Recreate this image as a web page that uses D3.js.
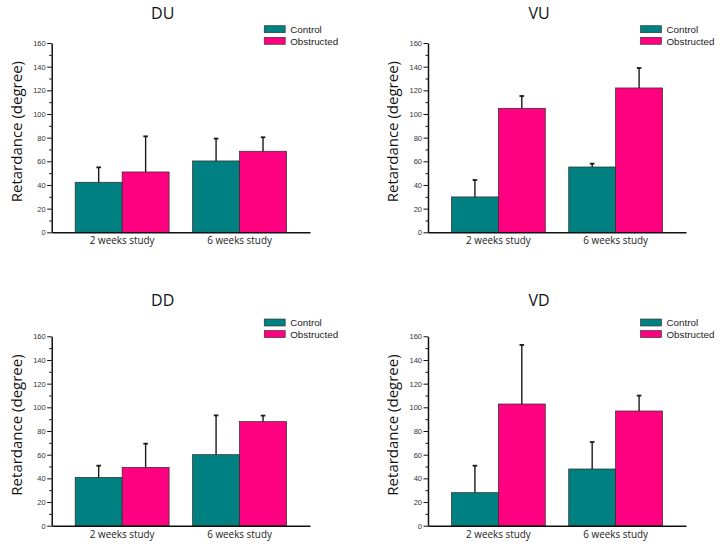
<!DOCTYPE html>
<html><head><meta charset="utf-8">
<script src="https://cdn.jsdelivr.net/npm/d3@7"></script>
<style>body{margin:0;background:#fff;} svg{display:block;}</style>
</head><body>
<svg id="chart" width="727" height="548"></svg>
<script>
// ---- data ----
const categories = ["2 weeks study", "6 weeks study"];
const seriesNames = ["Control", "Obstructed"];
const panelNames = ["DU", "VU", "DD", "VD"];
const yTicks = [0, 20, 40, 60, 80, 100, 120, 140, 160];
const yMinorTicks = [10, 30, 50, 70, 90, 110, 130, 150];
const yLabel = "Retardance (degree)";

const duControl = [42.3, 60.3];
const duControlErr = [12.6, 18.9];
const duObstructed = [51.0, 68.5];
const duObstructedErr = [30.1, 11.8];

const vuControl = [29.9, 55.2];
const vuControlErr = [14.3, 2.8];
const vuObstructed = [104.8, 122.0];
const vuObstructedErr = [10.4, 16.9];

const ddControl = [40.8, 60.0];
const ddControlErr = [9.9, 33.2];
const ddObstructed = [49.3, 87.9];
const ddObstructedErr = [20.0, 5.1];

const vdControl = [27.9, 47.9];
const vdControlErr = [22.8, 22.8];
const vdObstructed = [102.8, 96.9];
const vdObstructedErr = [49.9, 13.0];

const panelData = {
  DU: [duControl, duObstructed, duControlErr, duObstructedErr],
  VU: [vuControl, vuObstructed, vuControlErr, vuObstructedErr],
  DD: [ddControl, ddObstructed, ddControlErr, ddObstructedErr],
  VD: [vdControl, vdObstructed, vdControlErr, vdObstructedErr]
};

// ---- layout / style ----
const colors = {Control: "#008080", Obstructed: "#FF0080"};
const layout = {
  DU: {left: 51.7, right: 310, top: 43, bottom: 232.3, titleY: 19.3},
  VU: {left: 428, right: 686, top: 43, bottom: 232.3, titleY: 19.3},
  DD: {left: 51.7, right: 310, top: 336.3, bottom: 525.7, titleY: 306},
  VD: {left: 428, right: 686, top: 336.3, bottom: 525.7, titleY: 305.7}
};
const textFont = "'Open Sans', 'Noto Sans', sans-serif";
const tickFont = "'Liberation Sans', Arial, sans-serif";

const svg = d3.select("#chart");

panelNames.forEach(name => {
  const L = layout[name];
  const [ctrl, obs, ctrlErr, obsErr] = panelData[name];
  const g = svg.append("g").attr("transform", `translate(${L.left},${L.top})`);
  const w = L.right - L.left, h = L.bottom - L.top;

  const y = d3.scaleLinear().domain([0, 160]).range([h, 0]);
  const x0 = d3.scaleBand().domain(categories).range([0, w]).paddingInner(0.2).paddingOuter(0.2);
  const x1 = d3.scaleBand().domain(seriesNames).range([0, x0.bandwidth()]).padding(0);

  const rows = categories.map((c, i) => ({
    cat: c,
    vals: [
      {s: "Control", v: ctrl[i], e: ctrlErr[i]},
      {s: "Obstructed", v: obs[i], e: obsErr[i]}
    ]
  }));

  // bars
  const cg = g.selectAll(".cat").data(rows).join("g")
    .attr("transform", d => `translate(${x0(d.cat)},0)`);
  cg.selectAll("rect").data(d => d.vals).join("rect")
    .attr("x", d => x1(d.s))
    .attr("y", d => y(d.v))
    .attr("width", x1.bandwidth())
    .attr("height", d => y(0) - y(d.v))
    .attr("fill", d => colors[d.s])
    .attr("stroke", "#2a2a2a")
    .attr("stroke-width", 0.7);

  // error bars (upper only)
  cg.selectAll("line.err").data(d => d.vals).join("line")
    .attr("class", "err")
    .attr("x1", d => x1(d.s) + x1.bandwidth() / 2)
    .attr("x2", d => x1(d.s) + x1.bandwidth() / 2)
    .attr("y1", d => y(d.v))
    .attr("y2", d => y(d.v + d.e))
    .attr("stroke", "#1a1a1a").attr("stroke-width", 1.4);
  cg.selectAll("line.cap").data(d => d.vals).join("line")
    .attr("class", "cap")
    .attr("x1", d => x1(d.s) + x1.bandwidth() / 2 - 2.3)
    .attr("x2", d => x1(d.s) + x1.bandwidth() / 2 + 2.3)
    .attr("y1", d => y(d.v + d.e))
    .attr("y2", d => y(d.v + d.e))
    .attr("stroke", "#1a1a1a").attr("stroke-width", 1.8);

  // y axis minor ticks
  g.append("g")
    .call(d3.axisLeft(y).tickValues(yMinorTicks).tickSize(2.5).tickFormat("").tickSizeOuter(0))
    .call(s => s.select(".domain").remove())
    .call(s => s.selectAll("line").attr("stroke", "#111").attr("stroke-width", 1));
  // y axis major
  g.append("g")
    .call(d3.axisLeft(y).tickValues(yTicks).tickSize(4.5).tickPadding(1.5).tickSizeOuter(0))
    .call(s => s.select(".domain").attr("stroke", "#111").attr("stroke-width", 1.5))
    .call(s => s.selectAll("line").attr("stroke", "#111").attr("stroke-width", 1))
    .call(s => s.selectAll("text").attr("font-family", tickFont).attr("font-size", 7.5).attr("fill", "#333"));

  // x axis
  g.append("g").attr("transform", `translate(0,${h})`)
    .call(d3.axisBottom(x0).tickSize(0).tickSizeOuter(0).tickPadding(5))
    .call(s => s.select(".domain").attr("stroke", "#111").attr("stroke-width", 1.5))
    .call(s => s.selectAll("text").attr("font-family", textFont).attr("font-size", 9.9).attr("fill", "#222"));

  // y label
  g.append("text")
    .attr("transform", `translate(-36,${h / 2 - 6}) rotate(-90)`)
    .attr("text-anchor", "middle")
    .attr("dominant-baseline", "central")
    .attr("font-family", textFont).attr("font-size", 15).attr("fill", "#111")
    .text(yLabel);

  // title
  svg.append("text")
    .attr("x", L.left + 111).attr("y", L.titleY)
    .attr("text-anchor", "middle")
    .attr("font-family", textFont).attr("font-size", 16).attr("fill", "#111")
    .text(name);

  // legend
  const lg = g.append("g").attr("transform", `translate(212.5,-17.3)`);
  seriesNames.forEach((s, i) => {
    lg.append("rect").attr("x", 0).attr("y", i * 11.6).attr("width", 21).attr("height", 7)
      .attr("fill", colors[s]).attr("stroke", "#2a2a2a").attr("stroke-width", 0.6);
    lg.append("text").attr("x", 26).attr("y", i * 11.6 + 7.4)
      .attr("font-family", tickFont).attr("font-size", 9.8).attr("fill", "#222")
      .text(s);
  });
});
</script>
</body></html>
